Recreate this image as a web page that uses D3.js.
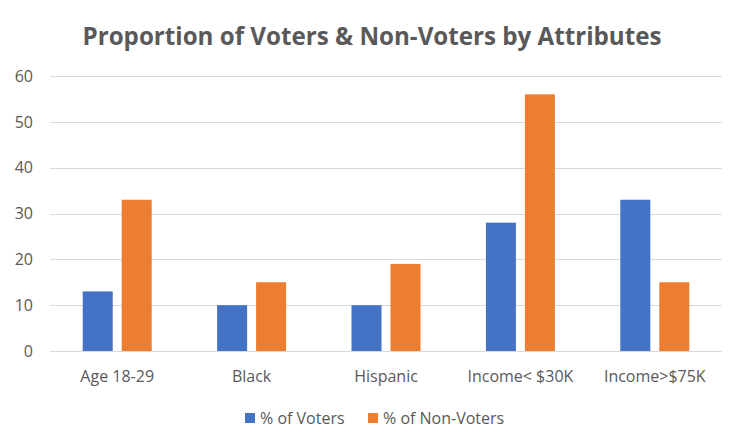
<!DOCTYPE html>
<html>
<head>
<meta charset="utf-8">
<script src="https://cdn.jsdelivr.net/npm/d3@7"></script>
<style>
  body { margin: 0; background: #fff; }
  text { font-family: "Open Sans", "Noto Sans", sans-serif; }
</style>
</head>
<body>
<div id="chart"></div>
<script>
// data
const categories = ["Age 18-29", "Black", "Hispanic", "Income< $30K", "Income>$75K"];
const seriesNames = ["% of Voters", "% of Non-Voters"];
const voters = [13, 10, 10, 28, 33];
const nonVoters = [33, 15, 19, 56, 15];
const yTicks = [0, 10, 20, 30, 40, 50, 60];

const width = 745, height = 447;
const margin = { top: 76, right: 23, bottom: 96, left: 50 };
const colors = ["#4472C4", "#ED7D31"];

const svg = d3.select("#chart").append("svg")
    .attr("width", width)
    .attr("height", height);

// title
svg.append("text")
    .attr("x", 372)
    .attr("y", 45)
    .attr("text-anchor", "middle")
    .attr("textLength", 579)
    .attr("lengthAdjust", "spacingAndGlyphs")
    .style("font-size", "25px")
    .style("font-weight", "bold")
    .style("fill", "#595959")
    .text("Proportion of Voters & Non-Voters by Attributes");

const x0 = d3.scaleBand()
    .domain(categories)
    .range([margin.left, width - margin.right]);

const y = d3.scaleLinear()
    .domain([0, 60])
    .range([height - margin.bottom, margin.top]);

// gridlines
svg.append("g")
    .selectAll("line")
    .data(yTicks)
    .enter()
    .append("line")
    .attr("x1", margin.left)
    .attr("x2", width - margin.right)
    .attr("y1", d => Math.round(y(d)) + 0.5)
    .attr("y2", d => Math.round(y(d)) + 0.5)
    .attr("stroke", "#d9d9d9")
    .attr("stroke-width", 1);

// y labels
svg.append("g")
    .selectAll("text")
    .data(yTicks)
    .enter()
    .append("text")
    .attr("x", 33)
    .attr("y", d => y(d))
    .attr("dy", "0.36em")
    .attr("text-anchor", "end")
    .style("font-size", "16px")
    .style("fill", "#595959")
    .text(d => d);

// bars: each group is 69px wide, centred on the band
const x1 = d3.scaleBand()
    .domain(seriesNames)
    .range([-34.5, 34.5])
    .paddingInner(0.23);

const rows = categories.map((c, i) => ({ cat: c, values: [voters[i], nonVoters[i]] }));

const groups = svg.append("g")
    .selectAll("g")
    .data(rows)
    .enter()
    .append("g")
    .attr("transform", d => `translate(${x0(d.cat) + x0.bandwidth() / 2},0)`);

groups.selectAll("rect")
    .data(d => d.values.map((v, j) => ({ name: seriesNames[j], value: v, j })))
    .enter()
    .append("rect")
    .attr("x", d => x1(d.name))
    .attr("width", x1.bandwidth())
    .attr("y", d => y(d.value))
    .attr("height", d => y(0) - y(d.value))
    .attr("fill", d => colors[d.j]);

// category labels
svg.append("g")
    .selectAll("text")
    .data(categories)
    .enter()
    .append("text")
    .attr("x", d => x0(d) + x0.bandwidth() / 2)
    .attr("y", 382)
    .attr("text-anchor", "middle")
    .style("font-size", "16px")
    .style("fill", "#595959")
    .text(d => d);

// legend
const legendPos = [245, 368];
const legend = svg.append("g")
    .selectAll("g")
    .data(seriesNames)
    .enter()
    .append("g")
    .attr("transform", (d, i) => `translate(${legendPos[i]},413)`);

legend.append("rect")
    .attr("width", 10)
    .attr("height", 10)
    .attr("fill", (d, i) => colors[i]);

legend.append("text")
    .attr("x", 15)
    .attr("y", 5)
    .attr("dy", "0.36em")
    .style("font-size", "16px")
    .style("fill", "#595959")
    .text(d => d);
</script>
</body>
</html>
